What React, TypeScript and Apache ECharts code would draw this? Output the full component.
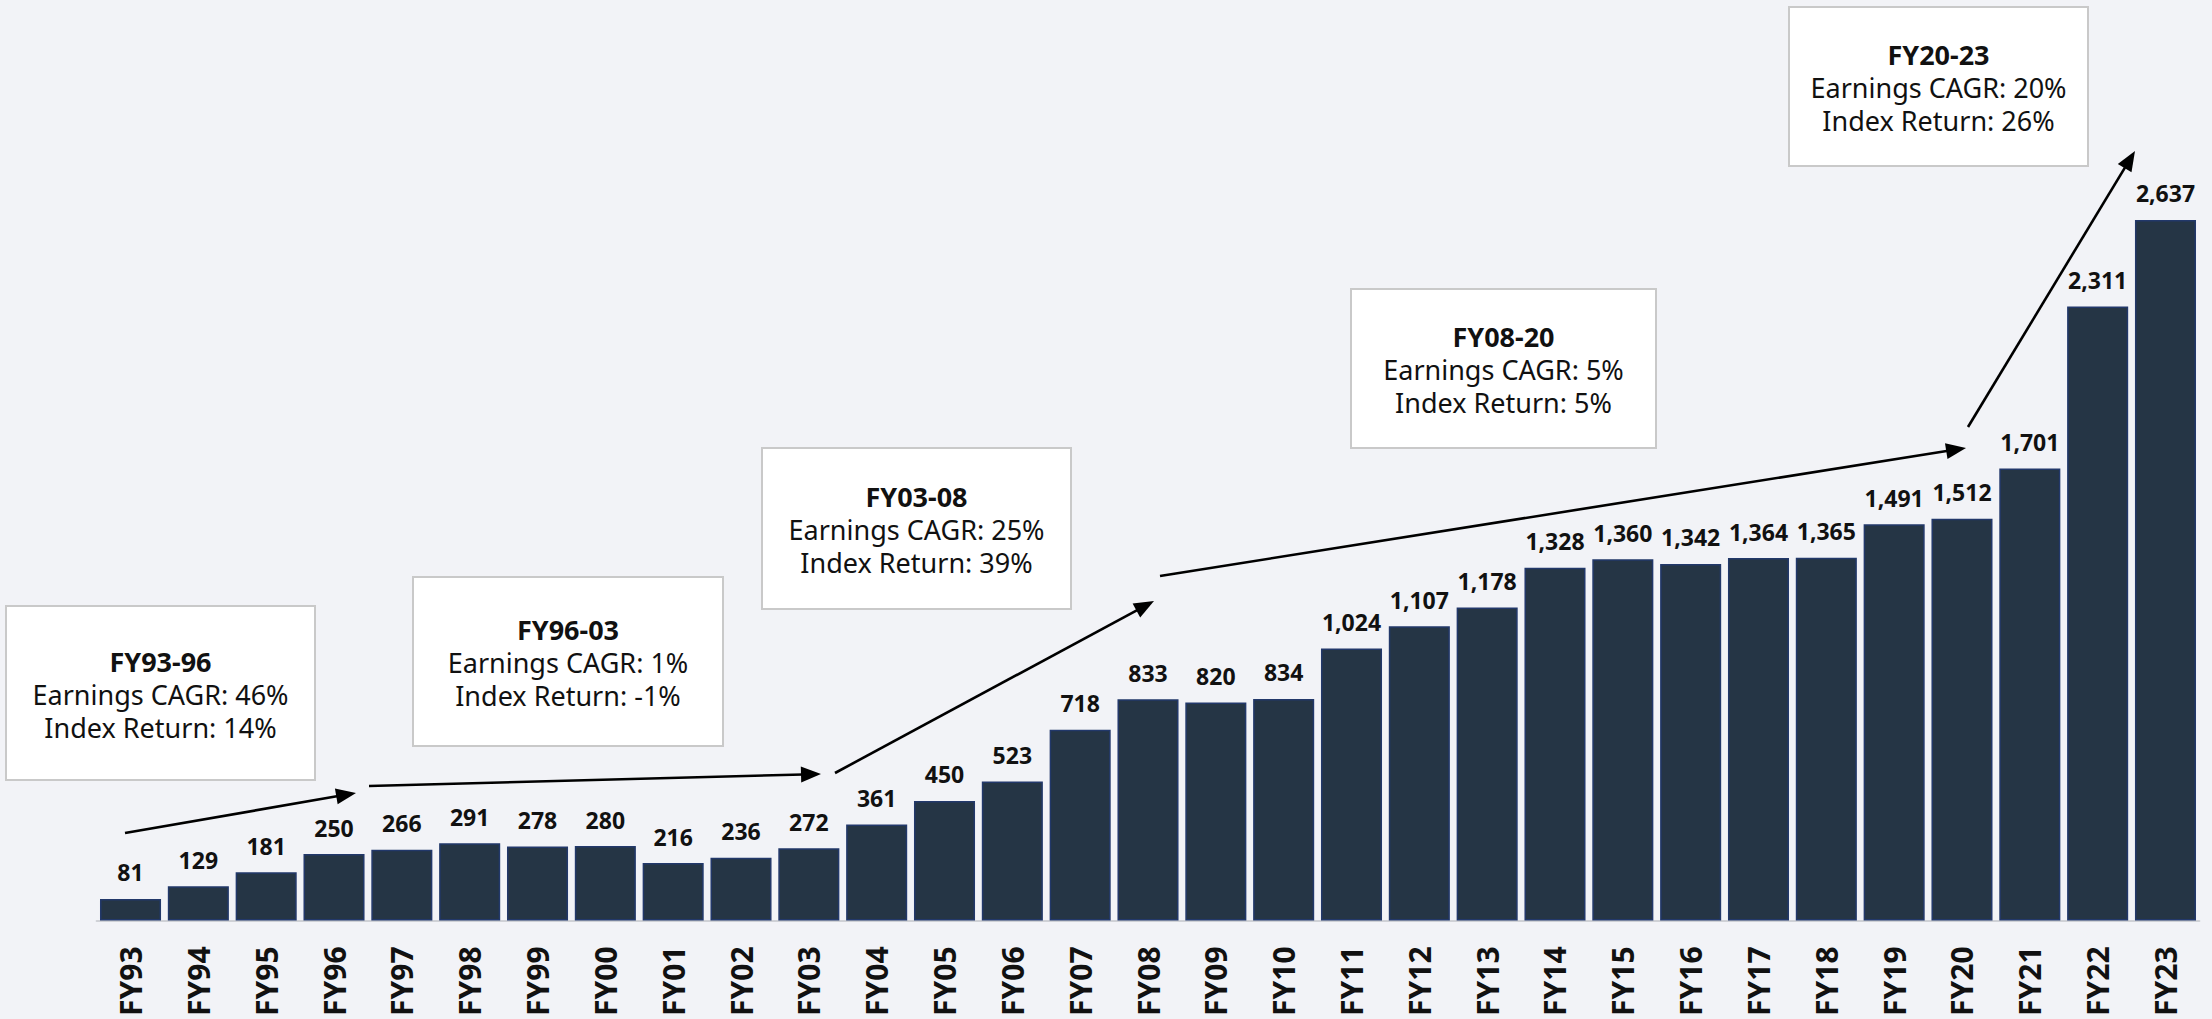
import React, { useEffect, useRef } from "react";
import * as echarts from "echarts";

const categories = [
  "FY93", "FY94", "FY95", "FY96", "FY97", "FY98", "FY99", "FY00", "FY01", "FY02",
  "FY03", "FY04", "FY05", "FY06", "FY07", "FY08", "FY09", "FY10", "FY11", "FY12",
  "FY13", "FY14", "FY15", "FY16", "FY17", "FY18", "FY19", "FY20", "FY21", "FY22", "FY23",
];

const earnings = [
  81, 129, 181, 250, 266, 291, 278, 280, 216, 236,
  272, 361, 450, 523, 718, 833, 820, 834, 1024, 1107,
  1178, 1328, 1360, 1342, 1364, 1365, 1491, 1512, 1701, 2311, 2637,
];

const periods = ["FY93-96", "FY96-03", "FY03-08", "FY08-20", "FY20-23"];
const earningsCagr = ["46%", "1%", "25%", "5%", "20%"];
const indexReturn = ["14%", "-1%", "39%", "5%", "26%"];

// layout of annotation boxes [x, y, w, h] in pixels
const boxLayout = [
  [6, 606, 309, 174],
  [413, 577, 310, 169],
  [762, 448, 309, 161],
  [1351, 289, 305, 159],
  [1789, 7, 299, 159],
];

// arrows [x1, y1, x2, y2] in pixels
const arrowLayout = [
  [125, 833, 356, 793],
  [369, 786, 821, 774],
  [835, 773, 1154, 601],
  [1160, 576, 1966, 448],
  [1968, 427, 2135, 151],
];

const FONT = "'Noto Sans', 'Open Sans', sans-serif";
const LINE_GAP = 33;

function buildGraphics() {
  const els: any[] = [];
  boxLayout.forEach((b, i) => {
    const [x, y, w, h] = b;
    const cx = x + w / 2;
    const cy = y + h / 2;
    els.push({
      type: "rect",
      shape: { x, y, width: w, height: h },
      style: { fill: "#ffffff", stroke: "#c9c9c9", lineWidth: 2 },
      z: 10,
    });
    const lines = [
      { t: periods[i], bold: true },
      { t: "Earnings CAGR: " + earningsCagr[i], bold: false },
      { t: "Index Return: " + indexReturn[i], bold: false },
    ];
    lines.forEach((ln, k) => {
      els.push({
        type: "text",
        x: cx,
        y: cy + 1 + (k - 1) * LINE_GAP,
        z: 11,
        style: {
          text: ln.t,
          fill: "#111111",
          font: (ln.bold ? "bold " : "") + "27px " + FONT,
          textAlign: "center",
          textVerticalAlign: "middle",
        },
      });
    });
  });
  arrowLayout.forEach((a) => {
    const [x1, y1, x2, y2] = a;
    const dx = x2 - x1;
    const dy = y2 - y1;
    const len = Math.sqrt(dx * dx + dy * dy);
    const ux = dx / len;
    const uy = dy / len;
    const hl = 20;
    const hw = 8;
    const bx = x2 - ux * hl;
    const by = y2 - uy * hl;
    els.push({
      type: "line",
      z: 12,
      shape: { x1, y1, x2: bx + ux * 2, y2: by + uy * 2 },
      style: { stroke: "#000000", lineWidth: 2.6 },
    });
    els.push({
      type: "polygon",
      z: 12,
      shape: {
        points: [
          [x2, y2],
          [bx - uy * hw, by + ux * hw],
          [bx + uy * hw, by - ux * hw],
        ],
      },
      style: { fill: "#000000" },
    });
  });
  return els;
}

export default function App() {
  const ref = useRef<HTMLDivElement>(null);
  useEffect(() => {
    if (!ref.current) return;
    const chart = echarts.init(ref.current, undefined, { renderer: "svg" });
    chart.setOption({
      animation: false,
      backgroundColor: "#f2f3f7",
      grid: { left: 96.6, right: 12.6, top: 123.5, bottom: 98.5, containLabel: false },
      xAxis: {
        type: "category",
        data: categories,
        axisLine: { show: true, lineStyle: { color: "#cfd1d6", width: 2 } },
        axisTick: { show: false },
        axisLabel: {
          rotate: 90,
          interval: 0,
          margin: 26,
          color: "#111111",
          fontFamily: FONT,
          fontWeight: "bold",
          fontSize: 30,
        },
      },
      yAxis: {
        type: "value",
        min: 0,
        max: 3000,
        show: false,
        splitLine: { show: false },
      },
      series: [
        {
          type: "bar",
          data: earnings,
          barCategoryGap: "10%",
          itemStyle: { color: "#253545", borderColor: "#22386a", borderWidth: 1.5 },
          label: {
            show: true,
            position: "top",
            distance: 15,
            color: "#111111",
            fontFamily: FONT,
            fontWeight: "bold",
            fontSize: 23,
            formatter: (p: any) => Number(p.value).toLocaleString("en-US"),
          },
        },
      ],
      graphic: buildGraphics(),
    });
    return () => chart.dispose();
  }, []);
  return (
    <div
      ref={ref}
      style={{ position: "fixed", left: 0, top: 0, width: 2212, height: 1019 }}
    />
  );
}
